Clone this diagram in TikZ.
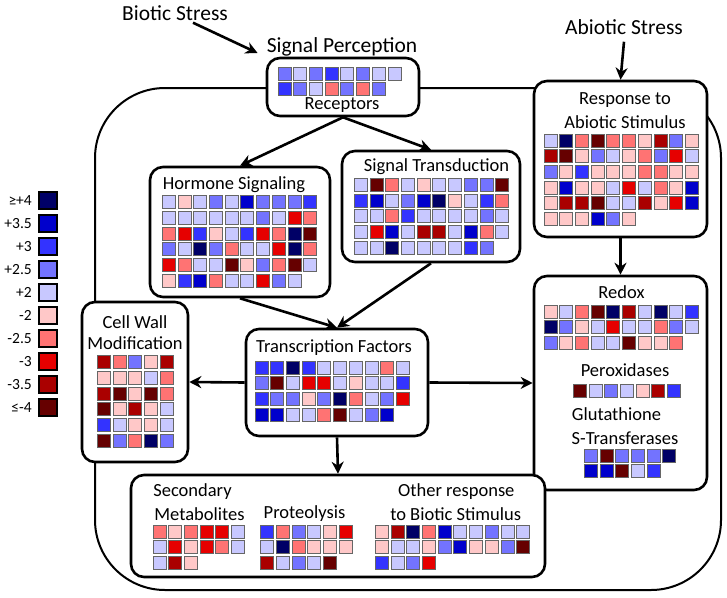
\documentclass[tikz,border=0pt]{standalone}
\usepackage{fontspec}
\setmainfont{Carlito}
\usetikzlibrary{arrows.meta}

% expression levels, 1 = >=+4 ... 5 = +2, 6 = -2 ... 0 = <=-4
\definecolor{lv1}{RGB}{0,0,102}
\definecolor{lv2}{RGB}{0,0,204}
\definecolor{lv3}{RGB}{51,51,255}
\definecolor{lv4}{RGB}{115,115,255}
\definecolor{lv5}{RGB}{200,200,255}
\definecolor{lv6}{RGB}{255,200,200}
\definecolor{lv7}{RGB}{255,115,115}
\definecolor{lv8}{RGB}{230,0,0}
\definecolor{lv9}{RGB}{170,0,0}
\definecolor{lv0}{RGB}{102,0,0}

\tikzset{
  box/.style={draw, line width=2.6pt, rounded corners=13pt, fill=white, inner sep=0pt},
  flow/.style={line width=2.6pt, -{Stealth[length=12pt,width=12pt]}},
  lbl/.style={font=\fontsize{18.5}{22}\selectfont, inner sep=0pt},
  biglbl/.style={font=\fontsize{21.5}{25}\selectfont, inner sep=0pt},
  keylbl/.style={font=\fontsize{15.5}{18}\selectfont, inner sep=0pt},
  sq/.style={draw=black!60, line width=0.8pt},
  keysq/.style={draw=black, line width=1.2pt}
}

\newcommand{\cellgrid}[3]{%
  \foreach \cells [count=\ri from 0] in {#3} {
    \foreach \v [count=\ci from 0] in \cells {
      \draw [sq, fill=lv\v] (#1+\ci*15.7, #2+\ri*15.7) rectangle ++(13,13);
    }
  }
}

\begin{document}
\begin{tikzpicture}[x=1pt,y=-1pt]
\useasboundingbox (0,0) rectangle (727,597);

% cell
\draw [line width=2pt, rounded corners=70pt] (95,88) rectangle (721,590);

% boxes
\node [box, minimum width=152pt, minimum height=58pt] (rec) at (343,87) {};
\node [box, minimum width=173pt, minimum height=156pt] (resp) at (620.5,159) {};
\node [box, minimum width=180pt, minimum height=130pt] (hor) at (240,232) {};
\node [box, minimum width=178pt, minimum height=111pt] (st) at (431,206.5) {};
\node [box, minimum width=106pt, minimum height=160pt] (cw) at (135,382) {};
\node [box, minimum width=182pt, minimum height=107pt] (tf) at (337,382.5) {};
\node [box, minimum width=173pt, minimum height=214pt] (redox) at (620.5,383) {};
\node [box, minimum width=414pt, minimum height=102pt] (bot) at (338,526) {};

% labels
\node [biglbl] (bio) at (175,13) {Biotic Stress};
\node [biglbl] (abio) at (624,27) {Abiotic Stress};
\node [biglbl] (sigp) at (342,47) {Signal Perception};
\node [lbl] (rectxt) at (342,105) {Receptors};
\node [lbl] (resptxt) at (625,100) {Response to};
\node [lbl] (resptxtb) at (625,122) {Abiotic Stimulus};
\node [lbl] (hortxt) at (234,185) {Hormone Signaling};
\node [lbl] (sttxt) at (436.5,167) {Signal Transduction};
\node [lbl] (cwtxt) at (135,322) {Cell Wall};
\node [lbl] (cwtxtb) at (135,343.5) {Modification};
\node [lbl] (tftxt) at (334,348) {Transcription Factors};
\node [lbl] (redtxt) at (621.5,292) {Redox};
\node [lbl] (pertxt) at (625,370) {Peroxidases};
\node [lbl] (gsttxt) at (616.5,414) {Glutathione};
\node [lbl] (gsttxtb) at (625,438.5) {S-Transferases};
\node [lbl] (smtxt) at (192.5,492) {Secondary};
\node [lbl] (smtxtb) at (199.5,514) {Metabolites};
\node [lbl] (prtxt) at (304.5,514) {Proteolysis};
\node [lbl] (ortxt) at (456.3,492) {Other response};
\node [lbl] (ortxtb) at (455.7,514) {to Biotic Stimulus};

% arrows
\draw [flow] ([xshift=18pt,yshift=-2pt]bio.south) -- ([xshift=-9pt,yshift=-6pt]sigp.west);
\draw [flow] ([yshift=-7pt]abio.south) -- (resp.north);
\draw [flow] (rec.south) -- (hor.north);
\draw [flow] (rec.south) -- (st.north);
\draw [flow] (hor.south) -- (tf.north);
\draw [flow] (st.south) -- (tf.north);
\draw [flow] (tf.west) -- (cw.east);
\draw [flow] (tf.east) -- (redox.west);
\draw [flow] (tf.south) -- (bot.north);
\draw [flow] (resp.south) -- (redox.north);

% squares
\cellgrid{278}{67}{{4,5,4,3,5,4,5,5},{3,4,5,7,4,7,4}}
\cellgrid{544}{134}{{5,1,7,0,7,7,6,9,4,6},{9,0,6,4,5,6,7,4,8,5},{4,6,3,6,6,6,7,7,6,6},{6,2,6,6,5,8,5,7,6,2},{6,9,9,0,5,5,9,6,8,2},{6,6,6,2,4,6}}
\cellgrid{162.3}{195.7}{{5,6,5,4,5,2,4,4,4,3},{5,5,5,5,5,5,4,5,8,7},{7,8,3,6,5,3,8,7,1,0},{4,5,1,4,7,5,5,8,1,7},{8,7,5,5,0,6,4,7,0,5},{6,3,2,7,5,5,8,4,5}}
\cellgrid{354.3}{178.3}{{5,0,7,5,6,5,5,4,4,0},{3,2,5,4,2,1,6,5,3,7},{5,5,7,3,5,5,5,5,4,5},{5,8,2,5,9,9,5,2,7,5},{5,5,1,5,5,5,5,3,4}}
\cellgrid{97.3}{355.7}{{9,7,4,6,9},{6,6,6,5,7},{9,0,6,0,7},{0,6,9,6,5},{3,5,6,6,5},{0,4,7,1,4}}
\cellgrid{255}{361}{{3,3,1,3,5,5,5,5,7,5},{4,0,5,8,8,5,6,5,5,3},{3,4,4,6,4,1,7,5,4,8},{2,2,5,5,7,0,5,4,2}}
\cellgrid{544}{305}{{6,5,7,0,1,9,5,1,5,3},{1,4,6,5,8,5,5,7,4,5},{4,6,7,5,5,0,6,6,7}}
\cellgrid{573.3}{384}{{0,5,4,5,6,9,3}}
\cellgrid{584.3}{449}{{4,0,4,4,4,1},{2,2,0,5,3}}
\cellgrid{153}{525}{{7,6,7,8,8,5},{5,8,6,8,7,5},{5,9,6}}
\cellgrid{260.7}{525}{{3,7,4,5,6,8},{5,1,7,6,6,6},{9,5,4,5,0}}
\cellgrid{375.3}{525}{{6,9,1,7,2,5,5,4,5,5},{6,5,5,6,4,2,6,6,4,0},{3,5,4,8}}

% key
\foreach \v/\t [count=\i from 0] in {1/≥+4,2/+3.5,3/+3,4/+2.5,5/+2,6/-2,7/-2.5,8/-3,9/-3.5,0/≤-4} {
  \draw [keysq, fill=lv\v] (39,192+\i*23) rectangle ++(18,17);
  \node [keylbl, anchor=east] (key\i) at (32,200.5+\i*23) {\t};
}

\end{tikzpicture}
\end{document}
